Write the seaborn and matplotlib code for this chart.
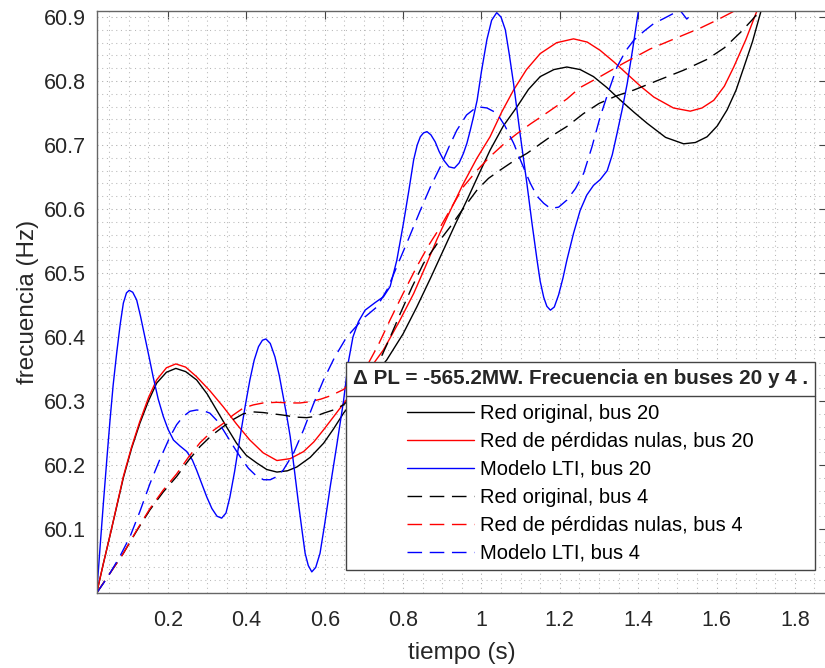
import matplotlib
matplotlib.use("Agg")
import matplotlib.pyplot as plt
import seaborn as sns
import pandas as pd
from matplotlib.ticker import MultipleLocator
from matplotlib.lines import Line2D

sns.set_theme(style="white")
plt.rcParams["font.family"] = ["Liberation Sans", "DejaVu Sans"]

# ---------------- data ----------------
orig20_t = [0.018, 0.035, 0.052, 0.069, 0.086, 0.107, 0.128, 0.150, 0.171, 0.196, 0.220, 0.245,
            0.273, 0.300, 0.324, 0.350, 0.375, 0.400, 0.427, 0.452, 0.478, 0.505, 0.529, 0.563,
            0.597, 0.622, 0.648, 0.700, 0.758, 0.800, 0.835, 0.870, 0.903, 0.933, 0.963, 0.993,
            1.022, 1.056, 1.091, 1.120, 1.150, 1.185, 1.218, 1.252, 1.286, 1.320, 1.355, 1.390,
            1.423, 1.470, 1.516, 1.546, 1.576, 1.602, 1.627, 1.650, 1.670, 1.692, 1.712, 1.740]
orig20_y = [60.000, 60.046, 60.090, 60.135, 60.180, 60.226, 60.265, 60.300, 60.328, 60.345, 60.351, 60.346,
            60.333, 60.311, 60.286, 60.259, 60.234, 60.215, 60.203, 60.193, 60.189, 60.191, 60.197, 60.212,
            60.234, 60.256, 60.281, 60.322, 60.364, 60.405, 60.447, 60.492, 60.536, 60.576, 60.614, 60.654,
            60.692, 60.730, 60.760, 60.787, 60.807, 60.818, 60.822, 60.818, 60.807, 60.790, 60.770, 60.751,
            60.734, 60.712, 60.702, 60.704, 60.713, 60.730, 60.755, 60.786, 60.822, 60.862, 60.906, 60.970]

nul20_t = [0.018, 0.035, 0.052, 0.069, 0.086, 0.107, 0.128, 0.150, 0.171, 0.196, 0.220, 0.245,
           0.273, 0.307, 0.341, 0.375, 0.409, 0.443, 0.478, 0.512, 0.546, 0.572, 0.597, 0.622,
           0.648, 0.700, 0.750, 0.790, 0.827, 0.857, 0.886, 0.920, 0.954, 0.988, 1.022, 1.052,
           1.082, 1.115, 1.150, 1.192, 1.235, 1.270, 1.303, 1.338, 1.372, 1.406, 1.440, 1.490,
           1.533, 1.563, 1.593, 1.620, 1.644, 1.675, 1.704, 1.730]
nul20_y = [60.000, 60.046, 60.090, 60.136, 60.182, 60.228, 60.268, 60.305, 60.333, 60.352, 60.358, 60.353,
           60.338, 60.316, 60.291, 60.264, 60.239, 60.219, 60.207, 60.210, 60.221, 60.236, 60.255, 60.275,
           60.296, 60.338, 60.380, 60.424, 60.468, 60.510, 60.552, 60.597, 60.640, 60.679, 60.713, 60.752,
           60.786, 60.818, 60.843, 60.860, 60.866, 60.861, 60.848, 60.830, 60.811, 60.792, 60.775, 60.758,
           60.753, 60.758, 60.770, 60.792, 60.822, 60.865, 60.911, 60.960]

lti20_t = [0.018, 0.027, 0.035, 0.044, 0.052, 0.060, 0.069, 0.078, 0.086, 0.094, 0.101, 0.110,
           0.120, 0.130, 0.141, 0.152, 0.162, 0.175, 0.188, 0.200, 0.214, 0.230, 0.248, 0.262,
           0.273, 0.286, 0.299, 0.312, 0.325, 0.337, 0.348, 0.358, 0.370, 0.384, 0.397, 0.409,
           0.420, 0.431, 0.441, 0.450, 0.461, 0.473, 0.484, 0.494, 0.503, 0.512, 0.523, 0.533,
           0.542, 0.550, 0.558, 0.567, 0.577, 0.588, 0.600, 0.614, 0.631, 0.648, 0.660, 0.672,
           0.686, 0.703, 0.729, 0.750, 0.767, 0.784, 0.801, 0.815, 0.827, 0.836, 0.844, 0.852,
           0.861, 0.871, 0.882, 0.892, 0.903, 0.917, 0.931, 0.943, 0.954, 0.963, 0.971, 0.980,
           0.989, 1.000, 1.014, 1.026, 1.039, 1.050, 1.061, 1.071, 1.082, 1.099, 1.116, 1.129,
           1.142, 1.150, 1.159, 1.167, 1.176, 1.186, 1.197, 1.208, 1.218, 1.235, 1.252, 1.269,
           1.286, 1.303, 1.321, 1.334, 1.346, 1.359, 1.372, 1.386, 1.401, 1.420]
lti20_y = [60.000, 60.075, 60.140, 60.210, 60.270, 60.325, 60.375, 60.420, 60.453, 60.469, 60.473, 60.470,
           60.458, 60.432, 60.400, 60.368, 60.338, 60.303, 60.276, 60.256, 60.239, 60.230, 60.221, 60.208,
           60.192, 60.171, 60.150, 60.132, 60.120, 60.117, 60.125, 60.150, 60.190, 60.244, 60.292, 60.333,
           60.364, 60.385, 60.395, 60.397, 60.390, 60.369, 60.340, 60.307, 60.277, 60.244, 60.190, 60.140,
           60.098, 60.062, 60.043, 60.033, 60.040, 60.062, 60.108, 60.166, 60.232, 60.300, 60.360, 60.400,
           60.424, 60.442, 60.454, 60.463, 60.479, 60.520, 60.578, 60.630, 60.677, 60.700, 60.713, 60.719,
           60.721, 60.716, 60.705, 60.690, 60.677, 60.666, 60.664, 60.672, 60.687, 60.703, 60.722, 60.745,
           60.770, 60.815, 60.865, 60.895, 60.907, 60.900, 60.880, 60.842, 60.796, 60.716, 60.640, 60.578,
           60.520, 60.487, 60.462, 60.448, 60.442, 60.447, 60.466, 60.492, 60.520, 60.562, 60.598, 60.622,
           60.637, 60.646, 60.660, 60.685, 60.718, 60.755, 60.796, 60.850, 60.911, 61.000]

orig4_t = [0.018, 0.052, 0.086, 0.120, 0.154, 0.188, 0.222, 0.252, 0.282, 0.311, 0.341, 0.366,
           0.392, 0.418, 0.443, 0.468, 0.494, 0.524, 0.554, 0.576, 0.597, 0.622, 0.648, 0.700,
           0.733, 0.763, 0.793, 0.822, 0.852, 0.886, 0.920, 0.955, 0.989, 1.018, 1.048, 1.082,
           1.116, 1.146, 1.176, 1.218, 1.260, 1.300, 1.345, 1.389, 1.450, 1.516, 1.576, 1.620,
           1.661, 1.690, 1.712, 1.730]
orig4_y = [60.000, 60.031, 60.062, 60.097, 60.130, 60.158, 60.182, 60.207, 60.229, 60.246, 60.260, 60.271,
           60.280, 60.283, 60.282, 60.280, 60.278, 60.275, 60.274, 60.276, 60.281, 60.286, 60.294, 60.325,
           60.354, 60.394, 60.437, 60.477, 60.515, 60.545, 60.572, 60.602, 60.630, 60.648, 60.661, 60.675,
           60.687, 60.700, 60.713, 60.729, 60.749, 60.765, 60.777, 60.786, 60.801, 60.817, 60.834, 60.852,
           60.876, 60.895, 60.911, 60.940]

nul4_t = [0.018, 0.052, 0.086, 0.120, 0.154, 0.188, 0.222, 0.252, 0.282, 0.311, 0.341, 0.366,
          0.392, 0.418, 0.443, 0.478, 0.512, 0.537, 0.563, 0.590, 0.614, 0.648, 0.707, 0.737,
          0.767, 0.800, 0.835, 0.865, 0.895, 0.925, 0.954, 0.988, 1.022, 1.056, 1.091, 1.125,
          1.159, 1.218, 1.252, 1.300, 1.363, 1.430, 1.500, 1.559, 1.600, 1.644, 1.670]
nul4_y = [60.000, 60.031, 60.062, 60.098, 60.132, 60.161, 60.186, 60.212, 60.235, 60.252, 60.265, 60.278,
          60.289, 60.294, 60.297, 60.298, 60.297, 60.297, 60.299, 60.303, 60.308, 60.318, 60.354, 60.388,
          60.427, 60.468, 60.510, 60.543, 60.572, 60.604, 60.635, 60.660, 60.682, 60.701, 60.718, 60.733,
          60.747, 60.772, 60.790, 60.806, 60.828, 60.850, 60.868, 60.883, 60.895, 60.909, 60.930]

lti4_t = [0.018, 0.035, 0.052, 0.077, 0.103, 0.128, 0.154, 0.180, 0.205, 0.222, 0.239, 0.256,
          0.273, 0.290, 0.307, 0.324, 0.341, 0.362, 0.384, 0.405, 0.427, 0.444, 0.461, 0.478,
          0.494, 0.520, 0.546, 0.571, 0.597, 0.625, 0.656, 0.700, 0.733, 0.760, 0.784, 0.815,
          0.844, 0.870, 0.895, 0.917, 0.937, 0.962, 0.989, 1.014, 1.039, 1.060, 1.082, 1.104,
          1.125, 1.142, 1.159, 1.176, 1.197, 1.218, 1.240, 1.261, 1.282, 1.303, 1.325, 1.346,
          1.368, 1.389, 1.415, 1.440, 1.466, 1.491, 1.505, 1.514, 1.524, 1.535, 1.545, 1.580]
lti4_y = [60.000, 60.015, 60.031, 60.057, 60.088, 60.127, 60.171, 60.210, 60.244, 60.263, 60.276, 60.284,
          60.286, 60.285, 60.281, 60.270, 60.255, 60.234, 60.213, 60.195, 60.182, 60.177, 60.177, 60.182,
          60.192, 60.218, 60.255, 60.295, 60.333, 60.368, 60.400, 60.430, 60.447, 60.475, 60.510, 60.555,
          60.598, 60.635, 60.666, 60.697, 60.723, 60.747, 60.760, 60.758, 60.750, 60.730, 60.703, 60.670,
          60.640, 60.620, 60.609, 60.601, 60.603, 60.614, 60.632, 60.656, 60.697, 60.744, 60.785, 60.822,
          60.847, 60.864, 60.878, 60.890, 60.898, 60.906, 60.912, 60.905, 60.897, 60.903, 60.915, 60.960]

labels = ["Red original, bus 20", "Red de pérdidas nulas, bus 20", "Modelo LTI, bus 20",
          "Red original, bus 4", "Red de pérdidas nulas, bus 4", "Modelo LTI, bus 4"]
colors = ["#000000", "#ff0000", "#0000ff", "#000000", "#ff0000", "#0000ff"]
dashed = [False, False, False, True, True, True]

x_ticks = [0.2, 0.4, 0.6, 0.8, 1.0, 1.2, 1.4, 1.6, 1.8]
x_tick_labels = ["0.2", "0.4", "0.6", "0.8", "1", "1.2", "1.4", "1.6", "1.8"]
y_ticks = [60.1, 60.2, 60.3, 60.4, 60.5, 60.6, 60.7, 60.8, 60.9]
y_tick_labels = ["60.1", "60.2", "60.3", "60.4", "60.5", "60.6", "60.7", "60.8", "60.9"]

legend_title = "Δ PL = -565.2MW. Frecuencia en buses 20 y 4 ."
x_label = "tiempo (s)"
y_label = "frecuencia (Hz)"

series = [(orig20_t, orig20_y), (nul20_t, nul20_y), (lti20_t, lti20_y),
          (orig4_t, orig4_y), (nul4_t, nul4_y), (lti4_t, lti4_y)]

# ---------------- figure ----------------
W, H = 825, 668
fig = plt.figure(figsize=(W / 100, H / 100), dpi=100)
ax = fig.add_axes([96.7 / W, (H - 593) / H, (827 - 96.7) / W, (593 - 10.7) / H])

for (t, y), lab, col, dsh in zip(series, labels, colors, dashed):
    df = pd.DataFrame({"t": t, "f": y})
    ls = (0, (10.5, 5.5)) if dsh else "-"
    sns.lineplot(data=df, x="t", y="f", ax=ax, color=col, linewidth=1.0,
                 linestyle=ls, estimator=None, sort=False, label=lab, legend=False)

ax.set_xlim(0.018, 1.882)
ax.set_ylim(60.0, 60.91)

ax.set_xticks(x_ticks)
ax.set_xticklabels(x_tick_labels)
ax.set_yticks(y_ticks)
ax.set_yticklabels(y_tick_labels)
ax.xaxis.set_minor_locator(MultipleLocator(0.05))
ax.yaxis.set_minor_locator(MultipleLocator(0.02))

txtcol = "#262626"
ax.tick_params(which="major", direction="in", length=5.5, width=0.8, color="#444444",
               top=True, right=True, labelsize=15.5, labelcolor=txtcol)
ax.tick_params(axis="x", which="major", pad=12.0)
ax.tick_params(axis="y", which="major", pad=7.9)
ax.tick_params(which="minor", length=0)

ax.set_axisbelow(True)
ax.grid(which="major", color="#a9a9a9", linestyle=(0, (1, 3.5)), linewidth=0.75)
ax.grid(which="minor", color="#b8b8b8", linestyle=(0, (1, 3.5)), linewidth=0.75)

for sp in ax.spines.values():
    sp.set_color("#666666")
    sp.set_linewidth(1.0)

ax.set_xlabel(x_label, fontsize=17.5, color=txtcol, labelpad=8)
ax.set_ylabel(y_label, fontsize=17.5, color=txtcol, labelpad=3.5)

leg = ax.legend(loc="lower right", bbox_to_anchor=(0.9835, 0.0395), borderaxespad=0,
                frameon=True, fancybox=False, shadow=False, framealpha=1,
                edgecolor="#444444", fontsize=14.5, title=legend_title,
                title_fontproperties={"weight": "bold", "size": 14.9},
                handlelength=3.3, handletextpad=0.3, labelspacing=0.45, borderpad=0.35)
leg.get_frame().set_linewidth(1.0)
leg._legend_box.sep = 11.5
for txt in leg.get_texts():
    txt.set_color("#000000")

# separator between legend title and entries
fig.canvas.draw()
r = fig.canvas.get_renderer()
fb = leg.get_frame().get_window_extent(r)
tb = leg.get_title().get_window_extent(r)
eb = leg.get_texts()[0].get_window_extent(r)
ysep = (tb.y0 + eb.y1) / 2.0
fig.add_artist(Line2D([fb.x0 / W, fb.x1 / W], [ysep / H, ysep / H], transform=fig.transFigure,
                      color="#444444", linewidth=1.0, zorder=10))

fig.savefig("out.png", dpi=100)
